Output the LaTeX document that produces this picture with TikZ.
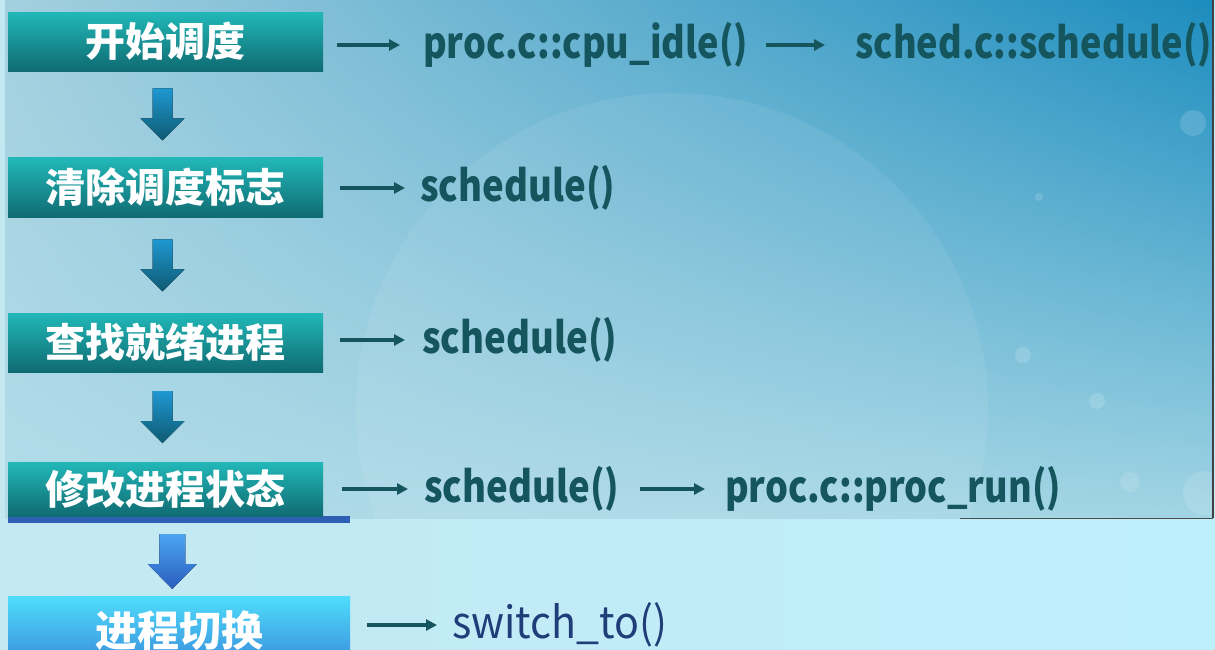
\documentclass[tikz,border=0pt]{standalone}
\usepackage{fontspec}
\usepackage{graphicx}
\setmainfont{Noto Sans CJK SC}
\usetikzlibrary{arrows.meta,calc,shadings}
\definecolor{bgbot}{HTML}{BDEFFB}
\definecolor{bgbotl}{HTML}{C4E8F2}
\definecolor{bgul}{HTML}{A3D0DF}
\definecolor{bgur}{HTML}{1B8CBE}
\definecolor{bgll}{HTML}{B3DCE8}
\definecolor{bglr}{HTML}{A2D5E4}
\definecolor{boxtop}{HTML}{22B8B8}
\definecolor{boxbot}{HTML}{0F6B72}
\definecolor{box5top}{HTML}{4EDDFA}
\definecolor{box5bot}{HTML}{3A8CDD}
\definecolor{txt}{HTML}{15555E}
\definecolor{txtblue}{HTML}{1F3D78}
\definecolor{darrtop}{HTML}{1F98D2}
\definecolor{darrbot}{HTML}{0E5A72}
\definecolor{darr5top}{HTML}{4CA6F2}
\definecolor{darr5bot}{HTML}{2A5CBE}
\definecolor{bline}{HTML}{2F5FB5}
\newcommand{\narrowtxt}[2]{\scalebox{#1}[1]{#2}}
\tikzset{
  stepbox/.style={rectangle, inner sep=0pt, minimum width=315pt, top color=boxtop, bottom color=boxbot,
    text=white, font=\fontsize{40}{40}\selectfont\bfseries},
  code/.style={anchor=west, inner sep=0pt, text=txt, font=\fontsize{43}{43}\selectfont\bfseries},
  rarr/.style={draw=txt, line width=3.6pt, -{Triangle[length=11pt,width=11pt]}},
  downarr/.pic={\fill[top color=darrtop, bottom color=darrbot]
    (-10,-26) -- (10,-26) -- (10,4) -- (22,4) -- (0,26) -- (-22,4) -- (-10,4) -- cycle;},
  downarrb/.pic={\fill[top color=darr5top, bottom color=darr5bot]
    (-13,-27) -- (13,-27) -- (13,3) -- (24.5,3) -- (0,28) -- (-24.5,3) -- (-13,3) -- cycle;},
}
\begin{document}
\begin{tikzpicture}[x=1pt,y=-1pt]
\useasboundingbox (0,0) rectangle (1215,649);
% backgrounds
\shade[left color=bgbotl, right color=bgbot] (0,0) rectangle (1215,649);
\begin{scope}
\clip (5,0) rectangle (1213,518);
\shade[upper left=bgul, upper right=bgur, lower left=bgll, lower right=bglr] (5,0) rectangle (1213,518);
\fill[white, opacity=0.07] (672,409) circle (316);
\fill[white, opacity=0.15] (1193,123) circle (13);
\fill[white, opacity=0.15] (1039,197) circle (4);
\fill[white, opacity=0.15] (1023,355) circle (8);
\fill[white, opacity=0.15] (1097,401) circle (8);
\fill[white, opacity=0.12] (1130,482) circle (10);
\fill[white, opacity=0.12] (1205,493) circle (22);
\end{scope}
\draw[black!75, line width=1.2pt] (1213,0) -- (1213,518);
\draw[black!70, line width=1pt] (960,518) -- (1213,518);
% boxes
\node[stepbox, minimum height=59pt] (b1) at (165.5,41.5) {开始调度};
\node[stepbox, minimum height=60pt] (b2) at (165.5,187.5) {清除调度标志};
\node[stepbox, minimum height=59pt] (b3) at (165.5,342.5) {查找就绪进程};
\fill[bline] (8,516) rectangle (350,523);
\node[stepbox, minimum height=54pt] (b4) at (165.5,489) {修改进程状态};
\node[stepbox, minimum width=342pt, minimum height=70pt, top color=box5top, bottom color=box5bot,
  font=\fontsize{42}{42}\selectfont\bfseries] (b5) at (179,631) {进程切换};
% down arrows
\pic at ($(b1.south)!.5!(b2.north)+(-3,0)$) {downarr};
\pic at ($(b2.south)!.5!(b3.north)+(-3,0)$) {downarr};
\pic at ($(b3.south)!.5!(b4.north)+(-3,0)$) {downarr};
\pic at ($(b4.south)!.5!(b5.north)+(0,5)$) {downarrb};
% code texts
\node[code] (t11) at (423,45) {\narrowtxt{0.84}{proc.c::cpu\_idle()}};
\node[code] (t12) at (855,45) {\narrowtxt{0.84}{sched.c::schedule()}};
\node[code] (t21) at (420,188) {\narrowtxt{0.85}{schedule()}};
\node[code] (t31) at (422,340) {\narrowtxt{0.85}{schedule()}};
\node[code] (t41) at (424,489) {\narrowtxt{0.85}{schedule()}};
\node[code] (t42) at (725,489) {\narrowtxt{0.84}{proc.c::proc\_run()}};
\node[code, text=txtblue, font=\fontsize{44}{44}\selectfont] (t51) at (452,625) {\narrowtxt{0.935}{switch\_to()}};
% right arrows
\draw[rarr, shorten <=14pt, shorten >=23pt] (t11.west -| b1.east) -- (t11.west);
\draw[rarr, shorten <=18pt, shorten >=30pt] (t11.east) -- (t12.west);
\draw[rarr, shorten <=17pt, shorten >=15pt] (t21.west -| b2.east) -- (t21.west);
\draw[rarr, shorten <=17pt, shorten >=17pt] (t31.west -| b3.east) -- (t31.west);
\draw[rarr, shorten <=19pt, shorten >=16pt] (t41.west -| b4.east) -- (t41.west);
\draw[rarr, shorten <=20pt, shorten >=20pt] (t41.east) -- (t42.west);
\draw[rarr, shorten <=17pt, shorten >=15pt] (t51.west -| b5.east) -- (t51.west);
\end{tikzpicture}
\end{document}
